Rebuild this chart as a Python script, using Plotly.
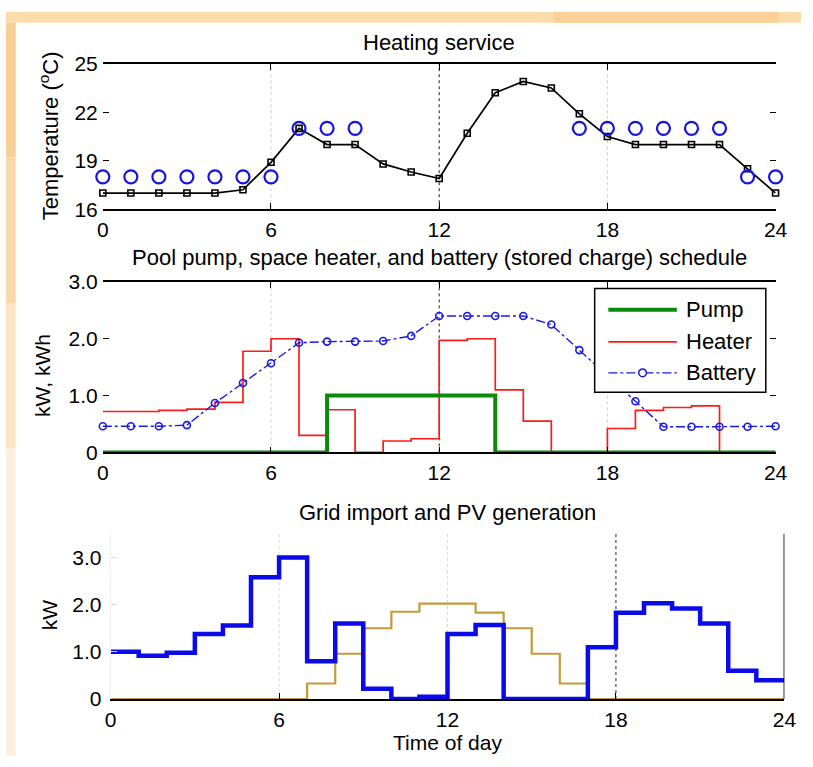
import plotly.graph_objects as go

# ---------------- data ----------------
hours = list(range(25))
x_ticks = [0, 6, 12, 18, 24]

temp_actual = [17.0, 17.0, 17.0, 17.0, 17.0, 17.2, 18.9, 21.0, 20.0, 20.0, 18.8, 18.3,
               17.9, 20.7, 23.2, 23.9, 23.5, 21.9, 20.5, 20.0, 20.0, 20.0, 20.0, 18.5, 17.0]
temp_setpoint = [18, 18, 18, 18, 18, 18, 18, 21, 21, 21, None, None, None, None, None,
                 None, None, 21, 21, 21, 21, 21, 21, 18, 18]

pump = [0, 0, 0, 0, 0, 0, 0, 0, 1.0, 1.0, 1.0, 1.0, 1.0, 1.0, 0, 0, 0, 0, 0, 0, 0, 0, 0, 0]
heater = [0.72, 0.72, 0.74, 0.76, 0.88, 1.78, 2.0, 0.30, 0.75, 0, 0.20, 0.24,
          1.97, 2.0, 1.10, 0.55, 0, 0, 0.42, 0.74, 0.79, 0.82, 0, 0]
battery = [0.46, 0.46, 0.46, 0.48, 0.87, 1.22, 1.57, 1.93, 1.95, 1.95, 1.96, 2.05,
           2.40, 2.40, 2.40, 2.40, 2.25, 1.80, 1.34, 0.90, 0.45, 0.45, 0.45, 0.45, 0.46]

grid_import = [1.0, 0.92, 0.98, 1.38, 1.56, 2.58, 3.0, 0.80, 1.60, 0.22, 0, 0.05,
               1.38, 1.57, 0, 0, 0, 1.10, 1.83, 2.03, 1.92, 1.60, 0.60, 0.40]
pv_gen = [0, 0, 0, 0, 0, 0, 0, 0.33, 0.96, 1.50, 1.85, 2.02, 2.02, 1.83, 1.50, 0.96,
          0.33, 0, 0, 0, 0, 0, 0, 0]

top_yticks = [16, 19, 22, 25]
kw_yticks = [0, 1, 2, 3]
kw_ylabels = ["0", "1.0", "2.0", "3.0"]

# ---------------- helpers ----------------
W, H = 813, 767
FONT = "Liberation Sans, Arial, sans-serif"


def px(x):
    return x / W


def py(y):
    return 1 - y / H


def step(vals):
    return vals + [vals[-1]]


fig = go.Figure()

# top panel
fig.add_trace(go.Scatter(x=hours, y=temp_actual, mode="lines+markers", xaxis="x", yaxis="y",
                         line=dict(color="black", width=1.7),
                         marker=dict(symbol="square-open", size=6, color="black", line=dict(width=1.6)),
                         cliponaxis=False, showlegend=False, name="Temperature"))
fig.add_trace(go.Scatter(x=hours, y=temp_setpoint, mode="markers", xaxis="x", yaxis="y",
                         marker=dict(symbol="circle-open", size=13, color="#1414e6", line=dict(width=2.2)),
                         cliponaxis=False, showlegend=False, name="Setpoint"))

# middle panel
fig.add_trace(go.Scatter(x=hours, y=step(heater), mode="lines", xaxis="x2", yaxis="y2",
                         line=dict(color="#ff1a1a", width=1.7, shape="hv"), showlegend=False, name="Heater"))
fig.add_trace(go.Scatter(x=hours, y=step(pump), mode="lines", xaxis="x2", yaxis="y2",
                         line=dict(color="#0a8a0a", width=4, shape="hv"), showlegend=False, name="Pump"))
fig.add_trace(go.Scatter(x=hours, y=battery, mode="lines+markers", xaxis="x2", yaxis="y2",
                         line=dict(color="#1a1ae6", width=1.4, dash="dashdot"),
                         marker=dict(symbol="circle-open", size=7, color="#1a1ae6", line=dict(width=1.6)),
                         cliponaxis=False, showlegend=False, name="Battery"))

# bottom panel
fig.add_trace(go.Scatter(x=hours, y=step(pv_gen), mode="lines", xaxis="x3", yaxis="y3",
                         line=dict(color="#c49a3a", width=2.2, shape="hv"), showlegend=False, name="PV"))
fig.add_trace(go.Scatter(x=hours, y=step(grid_import), mode="lines", xaxis="x3", yaxis="y3",
                         line=dict(color="#0a0aeb", width=4.5, shape="hv"), showlegend=False, name="Grid"))

tickfont = dict(family=FONT, size=21, color="black")
common_x = dict(range=[0, 24], tickvals=x_ticks, ticks="inside", ticklen=6, tickcolor="black",
                tickfont=tickfont, showgrid=False, zeroline=False, ticklabelstandoff=1)

fig.update_layout(
    width=W, height=H,
    margin=dict(l=0, r=0, t=0, b=0),
    paper_bgcolor="white", plot_bgcolor="rgba(0,0,0,0)",
    font=dict(family=FONT, color="black"),
    xaxis=dict(domain=[px(99), px(787)], anchor="y", showline=True, linecolor="black", linewidth=1.6,
               mirror="ticks", **common_x),
    yaxis=dict(domain=[py(203.3), py(53.3)], anchor="x", range=[16, 25], tickvals=top_yticks,
               ticks="inside", ticklen=6, tickcolor="black", tickfont=tickfont, showline=False,
               mirror="ticks", showgrid=False, zeroline=False, ticklabelstandoff=4),
    xaxis2=dict(domain=[px(99), px(787)], anchor="y2", showline=True, linecolor="black", linewidth=1.6,
                mirror="ticks", **common_x),
    yaxis2=dict(domain=[py(454), py(278.3)], anchor="x2", range=[0, 3], tickvals=kw_yticks,
                ticktext=kw_ylabels, ticks="inside", ticklen=6, tickcolor="black", tickfont=tickfont,
                showline=False, mirror="ticks", showgrid=False, zeroline=False, ticklabelstandoff=4),
    xaxis3=dict(domain=[px(107), px(796)], anchor="y3", showline=True, linecolor="black", linewidth=1.6,
                mirror=False, **common_x),
    yaxis3=dict(domain=[py(708.3), py(538)], anchor="x3", range=[0, 3.5], tickvals=kw_yticks,
                ticktext=kw_ylabels, ticks="inside", ticklen=6, tickcolor="#d8d8d8", tickfont=tickfont,
                showline=True, linecolor="#eeeeee", linewidth=1, showgrid=False, zeroline=False,
                ticklabelstandoff=4),
)

shapes = []
# slide background (orange frame)
shapes.append(dict(type="rect", xref="paper", yref="paper", x0=0, x1=1, y0=py(11), y1=1,
                   fillcolor="#fcdcaa", line=dict(width=0), layer="below"))
shapes.append(dict(type="rect", xref="paper", yref="paper", x0=px(560), x1=px(790), y0=py(11), y1=1,
                   fillcolor="#fbd096", line=dict(width=0), layer="below"))
for a, b, c in [(11, 150, "#f9cf98"), (150, 300, "#fad8ab"), (300, 450, "#fce3c3"), (450, 767, "#fdf0e0")]:
    shapes.append(dict(type="rect", xref="paper", yref="paper", x0=0, x1=px(10), y0=py(b), y1=py(a),
                       fillcolor=c, line=dict(width=0), layer="below"))

# vertical grid lines
for xr, yr in [("x", "y"), ("x2", "y2")]:
    for xv in (6, 12, 18):
        dark = xv == 12
        shapes.append(dict(type="line", xref=xr, yref=yr + " domain", x0=xv, x1=xv, y0=0, y1=1,
                           line=dict(color="#222222" if dark else "#cfcfcf", width=1, dash="dot"),
                           layer="below"))
for xv in (6, 12, 18):
    dark = xv == 18
    shapes.append(dict(type="line", xref="x3", yref="y3 domain", x0=xv, x1=xv, y0=0, y1=1,
                       line=dict(color="#222222" if dark else "#d8d8d8", width=1, dash="dot"),
                       layer="below"))
# right border of bottom panel
shapes.append(dict(type="line", xref="x3", yref="y3 domain", x0=24, x1=24, y0=0, y1=1,
                   line=dict(color="black", width=1.6)))

# legend box for the middle panel
lx0, lx1, ly0, ly1 = 602, 777, 285, 392
shapes.append(dict(type="rect", xref="paper", yref="paper", x0=px(lx0), x1=px(lx1), y0=py(ly1), y1=py(ly0),
                   fillcolor="white", line=dict(color="black", width=1.5), layer="above"))
legend_items = [("Pump", 307, dict(color="#0a8a0a", width=4)),
                ("Heater", 340, dict(color="#ff1a1a", width=1.7)),
                ("Battery", 372, dict(color="#1a1ae6", width=1.4, dash="dashdot"))]
annotations = []
for name, yy, ln in legend_items:
    shapes.append(dict(type="line", xref="paper", yref="paper", x0=px(616), x1=px(686), y0=py(yy), y1=py(yy),
                       line=ln, layer="above"))
    annotations.append(dict(text=name, xref="paper", yref="paper", x=px(693), y=py(yy), xanchor="left",
                            yanchor="middle", showarrow=False, font=dict(family=FONT, size=22, color="black")))
shapes.append(dict(type="circle", xref="paper", yref="paper", x0=px(647), x1=px(655), y0=py(376), y1=py(368),
                   fillcolor="white", line=dict(color="#1a1ae6", width=1.5), layer="above"))

# titles and axis labels
texts = [
    ("Heating service", 443, 31, 0, 22),
    ("Pool pump, space heater, and battery (stored charge) schedule", 443, 253, 0, 22),
    ("Grid import and PV generation", 451, 516, 0, 22),
    ("Time of day", 451, 753, 0, 21),
    ("Temperature (<sup>o</sup>C)", 44, 128, -90, 22),
    ("kW, kWh", 38, 375, -90, 21),
    ("kW", 44, 622, -90, 21),
]
for t, xx, yy, ang, fs in texts:
    annotations.append(dict(text=t, xref="paper", yref="paper", x=px(xx), y=py(yy), xanchor="center",
                            yanchor="middle", textangle=ang, showarrow=False,
                            font=dict(family=FONT, size=fs, color="black")))

fig.update_layout(shapes=shapes, annotations=annotations)
fig.write_html("out.html", config={"displayModeBar": False},
               post_script="document.body.style.margin='0';document.body.style.overflow='hidden';")
